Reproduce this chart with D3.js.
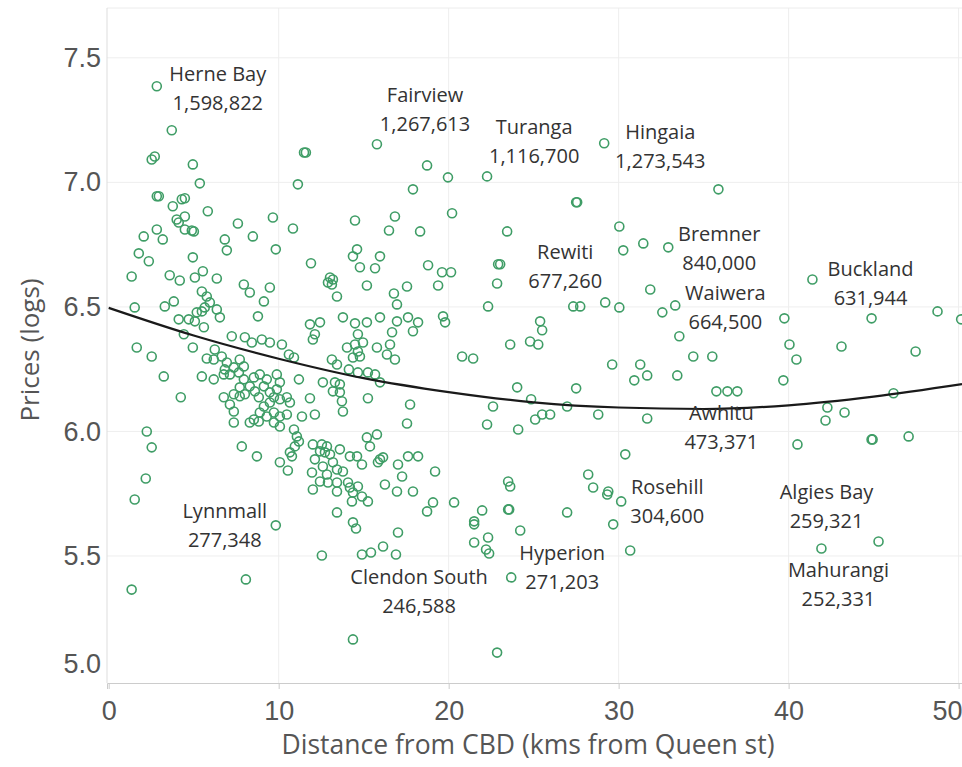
<!DOCTYPE html>
<html>
<head>
<meta charset="utf-8">
<script src="https://cdn.jsdelivr.net/npm/d3@7"></script>
<style>
  html, body { margin: 0; padding: 0; background: #fff; }
  svg { display: block; font-family: "Open Sans", "Noto Sans", sans-serif; }
</style>
</head>
<body>
<svg id="chart" width="962" height="767"></svg>
<script>
// suburbs: distance from CBD (km) and log10 of median price
const distance = [
  2.83, 3.71, 2.53, 2.71, 4.95, 5.36, 11.60, 11.49, 11.13, 2.83,
  2.95, 3.77, 4.30, 4.48, 5.83, 4.00, 4.12, 4.48, 4.48, 4.89,
  5.01, 2.83, 2.06, 3.18, 7.60, 6.83, 6.95, 8.48, 9.66, 10.84,
  9.83, 1.77, 2.36, 4.95, 1.35, 3.59, 4.18, 5.07, 5.54, 6.36,
  7.95, 8.30, 9.48, 9.13, 1.53, 3.30, 3.83, 5.48, 5.77, 5.95,
  5.18, 5.48, 5.65, 6.36, 6.54, 4.12, 4.71, 5.07, 5.60, 8.78,
  4.42, 7.24, 8.01, 8.42, 9.01, 9.48, 10.19, 10.60, 10.90, 1.65,
  2.53, 4.95, 6.24, 5.77, 6.18, 6.65, 6.95, 7.71, 7.95, 7.36,
  7.13, 7.66, 3.24, 5.48, 6.18, 6.77, 6.83, 7.95, 8.54, 8.89,
  9.30, 9.89, 11.19, 7.71, 8.01, 8.30, 8.60, 9.13, 9.48, 9.89,
  10.07, 6.77, 7.36, 7.71, 4.24, 7.13, 7.36, 8.83, 9.13, 9.48,
  9.72, 10.07, 10.48, 10.66, 8.89, 9.30, 9.72, 10.07, 10.48, 11.37,
  7.36, 8.30, 8.54, 8.83, 9.72, 10.07, 10.90, 11.07, 11.19, 10.95,
  10.66, 10.78, 2.24, 2.53, 7.83, 8.72, 2.18, 1.53, 1.35, 8.07,
  9.83, 10.07, 10.54, 12.01, 12.13, 11.96, 12.01, 12.13, 15.78, 18.73,
  19.96, 22.26, 17.90, 20.20, 23.44, 16.84, 16.49, 18.32, 14.49, 14.61,
  14.37, 15.96, 14.78, 15.67, 11.90, 13.02, 13.19, 12.90, 13.13, 13.43,
  15.19, 16.78, 16.96, 17.55, 18.79, 19.61, 20.14, 19.38, 22.91, 23.03,
  22.85, 22.32, 13.78, 14.49, 15.19, 15.96, 16.96, 17.61, 18.20, 19.67,
  19.79, 11.84, 12.43, 12.13, 12.01, 14.66, 16.67, 17.90, 14.02, 14.49,
  14.96, 14.66, 14.37, 14.78, 15.78, 16.37, 16.84, 16.55, 13.13, 13.43,
  14.13, 14.66, 15.25, 15.67, 15.96, 20.79, 21.44, 23.62, 24.03, 22.61,
  22.26, 24.09, 12.60, 13.31, 13.60, 13.19, 13.60, 13.72, 13.78, 11.84,
  15.25, 17.73, 17.55, 15.19, 15.78, 15.37, 12.54, 12.84, 12.43, 12.72,
  13.02, 13.60, 14.19, 14.61, 14.90, 15.96, 15.84, 16.14, 17.02, 17.26,
  17.61, 18.20, 19.20, 12.60, 12.84, 13.19, 13.43, 13.78, 12.43, 12.90,
  13.43, 14.08, 14.19, 14.66, 13.43, 14.37, 14.90, 15.25, 14.31, 16.25,
  16.96, 17.90, 19.08, 18.73, 20.32, 21.97, 23.50, 23.62, 23.50, 23.56,
  13.43, 14.37, 14.55, 12.54, 14.90, 15.43, 16.14, 16.90, 17.02, 21.50,
  21.50, 21.50, 22.32, 22.20, 22.38, 24.21, 23.68, 26.97, 29.68, 30.68,
  14.37, 22.85, 41.93, 45.29, 29.15, 35.87, 27.50, 27.56, 30.04, 30.27,
  31.45, 32.92, 31.86, 27.33, 27.74, 29.21, 30.04, 32.57, 33.33, 25.38,
  25.50, 33.57, 24.79, 25.27, 29.62, 31.27, 31.68, 30.92, 33.45, 34.39,
  35.51, 35.75, 36.40, 36.98, 24.85, 27.50, 26.97, 28.80, 25.09, 25.50,
  25.97, 31.68, 30.39, 28.21, 28.50, 29.33, 29.39, 30.15, 41.40, 39.75,
  44.88, 48.76, 50.15, 40.05, 40.46, 43.11, 47.47, 39.69, 46.17, 42.28,
  42.17, 43.29, 40.52, 44.88, 44.94, 47.06
];

const logPrice = [
  7.386, 7.209, 7.092, 7.104, 7.072, 6.996, 7.120, 7.120, 6.992, 6.944,
  6.944, 6.904, 6.932, 6.936, 6.884, 6.851, 6.839, 6.863, 6.811, 6.807,
  6.803, 6.811, 6.783, 6.771, 6.835, 6.771, 6.727, 6.783, 6.859, 6.815,
  6.731, 6.715, 6.683, 6.699, 6.622, 6.627, 6.606, 6.618, 6.643, 6.614,
  6.590, 6.558, 6.578, 6.522, 6.498, 6.502, 6.522, 6.562, 6.542, 6.518,
  6.478, 6.482, 6.498, 6.490, 6.458, 6.450, 6.450, 6.442, 6.418, 6.462,
  6.390, 6.382, 6.378, 6.357, 6.369, 6.357, 6.349, 6.309, 6.297, 6.337,
  6.301, 6.337, 6.329, 6.293, 6.289, 6.301, 6.277, 6.289, 6.261, 6.257,
  6.229, 6.237, 6.221, 6.221, 6.209, 6.229, 6.249, 6.209, 6.217, 6.229,
  6.209, 6.229, 6.209, 6.177, 6.149, 6.181, 6.161, 6.181, 6.157, 6.169,
  6.197, 6.137, 6.149, 6.141, 6.137, 6.108, 6.080, 6.137, 6.100, 6.116,
  6.137, 6.129, 6.137, 6.116, 6.076, 6.060, 6.076, 6.060, 6.068, 6.060,
  6.036, 6.036, 6.048, 6.040, 6.036, 6.020, 6.008, 5.980, 5.960, 5.940,
  5.916, 5.900, 6.000, 5.936, 5.940, 5.900, 5.811, 5.727, 5.365, 5.406,
  5.623, 5.876, 5.843, 5.948, 5.888, 5.835, 5.767, 6.068, 7.153, 7.068,
  7.020, 7.024, 6.972, 6.876, 6.803, 6.863, 6.807, 6.803, 6.847, 6.731,
  6.703, 6.703, 6.659, 6.655, 6.675, 6.618, 6.610, 6.598, 6.590, 6.542,
  6.586, 6.554, 6.510, 6.582, 6.667, 6.639, 6.639, 6.586, 6.671, 6.671,
  6.594, 6.502, 6.458, 6.434, 6.438, 6.458, 6.442, 6.458, 6.438, 6.462,
  6.438, 6.430, 6.438, 6.390, 6.369, 6.390, 6.398, 6.402, 6.337, 6.349,
  6.357, 6.321, 6.297, 6.301, 6.337, 6.309, 6.289, 6.349, 6.289, 6.269,
  6.249, 6.237, 6.237, 6.229, 6.197, 6.301, 6.293, 6.349, 6.177, 6.100,
  6.028, 6.008, 6.197, 6.197, 6.189, 6.161, 6.157, 6.121, 6.080, 6.133,
  6.133, 6.108, 6.032, 5.976, 5.988, 5.940, 5.948, 5.940, 5.920, 5.916,
  5.908, 5.928, 5.900, 5.900, 5.867, 5.888, 5.876, 5.896, 5.867, 5.819,
  5.900, 5.900, 5.839, 5.859, 5.827, 5.876, 5.847, 5.839, 5.799, 5.795,
  5.795, 5.795, 5.775, 5.779, 5.759, 5.755, 5.739, 5.719, 5.719, 5.787,
  5.759, 5.759, 5.715, 5.679, 5.715, 5.683, 5.799, 5.779, 5.687, 5.687,
  5.675, 5.635, 5.610, 5.502, 5.506, 5.514, 5.538, 5.506, 5.594, 5.639,
  5.627, 5.554, 5.574, 5.526, 5.510, 5.602, 5.414, 5.675, 5.627, 5.522,
  5.165, 5.112, 5.530, 5.558, 7.157, 6.972, 6.920, 6.920, 6.823, 6.727,
  6.755, 6.739, 6.570, 6.502, 6.502, 6.518, 6.498, 6.478, 6.506, 6.442,
  6.406, 6.382, 6.361, 6.349, 6.269, 6.269, 6.225, 6.205, 6.225, 6.301,
  6.301, 6.161, 6.161, 6.161, 6.129, 6.173, 6.100, 6.068, 6.048, 6.068,
  6.068, 6.052, 5.908, 5.827, 5.775, 5.747, 5.759, 5.719, 6.610, 6.454,
  6.454, 6.482, 6.450, 6.349, 6.289, 6.341, 6.321, 6.205, 6.153, 6.096,
  6.044, 6.076, 5.948, 5.968, 5.968, 5.980
];

// trend line
const trendDistance = [0, 5, 10, 15, 20, 25, 30, 35, 40, 45, 50.2];
const trendLogPrice = [6.496, 6.385, 6.292, 6.214, 6.158, 6.117, 6.096, 6.090, 6.105, 6.140, 6.190];

// labelled suburbs
const labelNames = ['Herne Bay', 'Fairview', 'Turanga', 'Hingaia', 'Rewiti', 'Bremner', 'Waiwera', 'Buckland',
  'Awhitu', 'Rosehill', 'Lynnmall', 'Clendon South', 'Hyperion', 'Algies Bay', 'Mahurangi'];
const labelPrices = ['1,598,822', '1,267,613', '1,116,700', '1,273,543', '677,260', '840,000', '664,500', '631,944',
  '473,371', '304,600', '277,348', '246,588', '271,203', '259,321', '252,331'];
const labelDistance = [6.42, 18.61, 25.03, 32.45, 26.86, 35.92, 36.28, 44.82, 36.04, 32.86, 6.83, 18.26, 26.68, 42.23, 42.93];
const labelLogPrice = [7.434, 7.349, 7.221, 7.201, 6.719, 6.791, 6.554, 6.651, 6.076, 5.775, 5.679, 5.414, 5.510, 5.755, 5.442];

const xTicks = [0, 10, 20, 30, 40, 50];
const yTicks = [5.0, 5.5, 6.0, 6.5, 7.0, 7.5];

const plot = { left: 107, right: 962, top: 8, bottom: 683 };

const svg = d3.select('#chart');

const x = d3.scaleLinear().domain([-0.1, 50.2]).range([plot.left, plot.right]);
const y = d3.scaleLinear().domain([4.99, 7.7]).range([plot.bottom, plot.top]);

// grid lines
svg.append('g')
  .selectAll('line')
  .data(xTicks.slice(1))
  .enter()
  .append('line')
  .attr('x1', (d) => x(d))
  .attr('x2', (d) => x(d))
  .attr('y1', plot.top)
  .attr('y2', plot.bottom)
  .attr('stroke', '#eeeeee');

svg.append('g')
  .selectAll('line')
  .data(yTicks.slice(1))
  .enter()
  .append('line')
  .attr('x1', plot.left)
  .attr('x2', plot.right)
  .attr('y1', (d) => y(d))
  .attr('y2', (d) => y(d))
  .attr('stroke', '#eeeeee');

// frame
svg.append('line')
  .attr('x1', plot.left).attr('x2', plot.right)
  .attr('y1', plot.top).attr('y2', plot.top)
  .attr('stroke', '#ececec');
svg.append('line')
  .attr('x1', plot.left).attr('x2', plot.left)
  .attr('y1', plot.top).attr('y2', plot.bottom)
  .attr('stroke', '#dddddd');

// x axis
const xAxis = svg.append('g')
  .attr('transform', `translate(0,${plot.bottom})`)
  .call(d3.axisBottom(x).tickValues(xTicks).tickSize(6).tickFormat(d3.format('d')));
xAxis.select('.domain').attr('stroke', '#cccccc');
xAxis.selectAll('.tick line').attr('stroke', '#cccccc');
xAxis.selectAll('text')
  .attr('y', 37)
  .attr('dy', null)
  .attr('fill', '#555')
  .style('font-size', '27px');
// last label is pulled inside the right edge
xAxis.selectAll('.tick')
  .filter((d) => d === xTicks[xTicks.length - 1])
  .select('text')
  .attr('text-anchor', 'end')
  .attr('x', plot.right - x(xTicks[xTicks.length - 1]));

// y axis
const yAxis = svg.append('g')
  .attr('transform', `translate(${plot.left},0)`)
  .call(d3.axisLeft(y).tickValues(yTicks).tickSize(0).tickPadding(6).tickFormat(d3.format('.1f')));
yAxis.select('.domain').remove();
yAxis.selectAll('text')
  .attr('fill', '#555')
  .style('font-size', '27px')
  .attr('transform', (d) => (d === yTicks[0] ? 'translate(0,-17)' : null));

// axis titles
svg.append('text')
  .attr('x', 528)
  .attr('y', 754)
  .attr('text-anchor', 'middle')
  .attr('fill', '#555')
  .style('font-size', '26.5px')
  .text('Distance from CBD (kms from Queen st)');

svg.append('text')
  .attr('transform', 'translate(30,350) rotate(-90)')
  .attr('text-anchor', 'middle')
  .attr('dy', '0.35em')
  .attr('fill', '#555')
  .style('font-size', '26px')
  .text('Prices (logs)');

// points
const points = distance.map((d, i) => ({ distance: d, logPrice: logPrice[i] }));

const plotArea = svg.append('g');
plotArea.append('clipPath')
  .attr('id', 'clip')
  .append('rect')
  .attr('x', plot.left)
  .attr('y', plot.top)
  .attr('width', plot.right - plot.left)
  .attr('height', plot.bottom - plot.top);

plotArea.append('g')
  .attr('clip-path', 'url(#clip)')
  .selectAll('circle')
  .data(points)
  .enter()
  .append('circle')
  .attr('cx', (d) => x(d.distance))
  .attr('cy', (d) => y(d.logPrice))
  .attr('r', 4.5)
  .attr('fill', 'none')
  .attr('stroke', '#3f9d66')
  .attr('stroke-width', 1.6);

// trend line
const trend = trendDistance.map((d, i) => ({ distance: d, logPrice: trendLogPrice[i] }));
const line = d3.line()
  .x((d) => x(d.distance))
  .y((d) => y(d.logPrice))
  .curve(d3.curveMonotoneX);

plotArea.append('path')
  .datum(trend)
  .attr('clip-path', 'url(#clip)')
  .attr('fill', 'none')
  .attr('stroke', '#1a1a1a')
  .attr('stroke-width', 2.2)
  .attr('d', line);

// suburb labels
const labels = svg.append('g')
  .selectAll('text')
  .data(labelNames)
  .enter()
  .append('text')
  .attr('text-anchor', 'middle')
  .attr('fill', '#333')
  .style('font-size', '20px');

labels.append('tspan')
  .attr('x', (d, i) => x(labelDistance[i]))
  .attr('y', (d, i) => y(labelLogPrice[i]))
  .attr('dy', '0.35em')
  .text((d) => d);

labels.append('tspan')
  .attr('x', (d, i) => x(labelDistance[i]))
  .attr('y', (d, i) => y(labelLogPrice[i]) + 29)
  .attr('dy', '0.35em')
  .text((d, i) => labelPrices[i]);
</script>
</body>
</html>
